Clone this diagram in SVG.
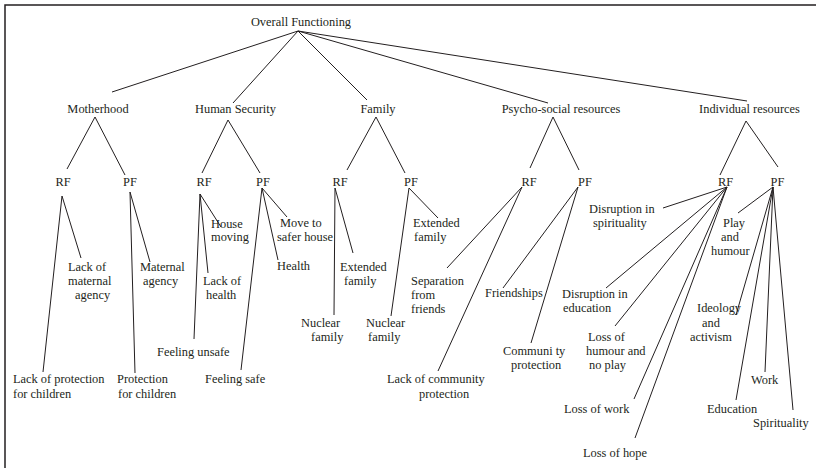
<svg xmlns="http://www.w3.org/2000/svg" width="816" height="468" viewBox="0 0 816 468">
<style>
text{font-family:'Liberation Serif','Times New Roman',Times,'DejaVu Serif',serif;font-size:12.4px;fill:#231f20}
.m{text-anchor:middle}
.c line{stroke:#231f20;stroke-width:1}
.frame{stroke:#231f20;stroke-width:1.5;fill:none}
</style>
<rect width="816" height="468" fill="#fff"/>
<path class="frame" d="M5,468 V5 H816"/>
<g class="c" id="connectors">
<line x1="298" y1="31" x2="112" y2="92"/>
<line x1="298" y1="31" x2="233" y2="103"/>
<line x1="298" y1="31" x2="367" y2="100"/>
<line x1="298" y1="31" x2="548" y2="103"/>
<line x1="298" y1="31" x2="747" y2="101"/>
<line x1="95" y1="117" x2="67" y2="169"/>
<line x1="95" y1="117" x2="125" y2="175"/>
<line x1="228" y1="120" x2="202" y2="173"/>
<line x1="228" y1="120" x2="260" y2="173"/>
<line x1="376" y1="117" x2="347" y2="170"/>
<line x1="376" y1="117" x2="405" y2="173"/>
<line x1="553" y1="117" x2="530" y2="168"/>
<line x1="553" y1="117" x2="579" y2="170"/>
<line x1="746" y1="121" x2="720" y2="175"/>
<line x1="746" y1="121" x2="778" y2="167"/>
<line x1="62" y1="196" x2="81" y2="258"/>
<line x1="62" y1="196" x2="43" y2="372"/>
<line x1="130" y1="192" x2="150" y2="262"/>
<line x1="130" y1="192" x2="135" y2="373"/>
<line x1="200" y1="194" x2="221" y2="227"/>
<line x1="200" y1="194" x2="208" y2="273"/>
<line x1="200" y1="194" x2="194" y2="339"/>
<line x1="262" y1="188" x2="287" y2="217"/>
<line x1="262" y1="188" x2="278" y2="260"/>
<line x1="262" y1="188" x2="241" y2="370"/>
<line x1="335" y1="188" x2="353" y2="253"/>
<line x1="335" y1="188" x2="334" y2="315"/>
<line x1="409" y1="188" x2="438" y2="218"/>
<line x1="409" y1="188" x2="391" y2="316"/>
<line x1="522" y1="187" x2="447" y2="268"/>
<line x1="522" y1="187" x2="438" y2="371"/>
<line x1="578" y1="187" x2="503" y2="288"/>
<line x1="578" y1="187" x2="531" y2="343"/>
<line x1="727" y1="187" x2="663" y2="208"/>
<line x1="727" y1="187" x2="606" y2="288"/>
<line x1="727" y1="187" x2="615" y2="326"/>
<line x1="727" y1="187" x2="634" y2="399"/>
<line x1="727" y1="187" x2="635" y2="438"/>
<line x1="773" y1="187" x2="738" y2="213"/>
<line x1="773" y1="187" x2="736" y2="315"/>
<line x1="773" y1="187" x2="736" y2="400"/>
<line x1="773" y1="187" x2="765" y2="372"/>
<line x1="773" y1="187" x2="793" y2="410"/>
</g>
<g id="overall"><text class="m" x="301" y="26">Overall Functioning</text></g>
<g id="motherhood"><text class="m" x="98" y="113">Motherhood</text></g>
<g id="human-security"><text class="m" x="235.5" y="113">Human Security</text></g>
<g id="family"><text class="m" x="378" y="113">Family</text></g>
<g id="psycho-social"><text class="m" x="561" y="113">Psycho-social resources</text></g>
<g id="individual"><text class="m" x="749.5" y="113">Individual resources</text></g>
<g id="m-rf"><text class="m" x="63" y="186">RF</text></g>
<g id="m-pf"><text class="m" x="130" y="186">PF</text></g>
<g id="hs-rf"><text class="m" x="204" y="186">RF</text></g>
<g id="hs-pf"><text class="m" x="263" y="186">PF</text></g>
<g id="f-rf"><text class="m" x="340" y="186">RF</text></g>
<g id="f-pf"><text class="m" x="411" y="186">PF</text></g>
<g id="p-rf"><text class="m" x="529" y="186">RF</text></g>
<g id="p-pf"><text class="m" x="585" y="186">PF</text></g>
<g id="i-rf"><text class="m" x="725.5" y="186">RF</text></g>
<g id="i-pf"><text class="m" x="777.5" y="186">PF</text></g>
<g id="lack-maternal-agency"><text x="68" y="271">Lack of</text><text x="68" y="285">maternal</text><text x="75" y="299">agency</text></g>
<g id="maternal-agency"><text x="140" y="271">Maternal</text><text x="143" y="285">agency</text></g>
<g id="lack-protection"><text x="13" y="383">Lack of protection</text><text x="13" y="398">for children</text></g>
<g id="protection"><text x="117" y="383">Protection</text><text x="118" y="398">for children</text></g>
<g id="house-moving"><text x="211" y="228">House</text><text x="211" y="241">moving</text></g>
<g id="lack-health"><text x="203" y="285">Lack of</text><text x="206" y="299">health</text></g>
<g id="feeling-unsafe"><text x="157" y="356">Feeling unsafe</text></g>
<g id="move-safer"><text x="280" y="227">Move to</text><text x="277" y="241">safer house</text></g>
<g id="health"><text x="277" y="270">Health</text></g>
<g id="feeling-safe"><text x="205" y="383">Feeling safe</text></g>
<g id="extended-rf"><text x="340" y="271">Extended</text><text x="344" y="285">family</text></g>
<g id="nuclear-rf"><text x="301" y="327">Nuclear</text><text x="311" y="341">family</text></g>
<g id="extended-pf"><text x="413" y="227">Extended</text><text x="414" y="241">family</text></g>
<g id="nuclear-pf"><text x="366" y="327">Nuclear</text><text x="368" y="341">family</text></g>
<g id="separation"><text x="411" y="285">Separation</text><text x="411" y="299">from</text><text x="411" y="313">friends</text></g>
<g id="lack-community"><text x="387" y="383">Lack of community</text><text x="419" y="398">protection</text></g>
<g id="friendships"><text x="485" y="297">Friendships</text></g>
<g id="community-protection"><text x="503" y="355">Communi ty</text><text x="511" y="369">protection</text></g>
<g id="disruption-spirituality"><text x="589" y="213">Disruption in</text><text x="593" y="227">spirituality</text></g>
<g id="disruption-education"><text x="562" y="298">Disruption in</text><text x="563" y="312">education</text></g>
<g id="loss-humour"><text x="588" y="341">Loss of</text><text x="586" y="355">humour and</text><text x="589" y="369">no play</text></g>
<g id="loss-work"><text x="564" y="413">Loss of work</text></g>
<g id="loss-hope"><text x="583" y="457">Loss of hope</text></g>
<g id="play-humour"><text x="723" y="227">Play</text><text x="721" y="241">and</text><text x="711" y="255">humour</text></g>
<g id="ideology"><text x="697" y="312">Ideology</text><text x="702" y="327">and</text><text x="690" y="341">activism</text></g>
<g id="work"><text x="751" y="384">Work</text></g>
<g id="education"><text x="707" y="413">Education</text></g>
<g id="spirituality"><text x="753" y="427">Spirituality</text></g>
</svg>
